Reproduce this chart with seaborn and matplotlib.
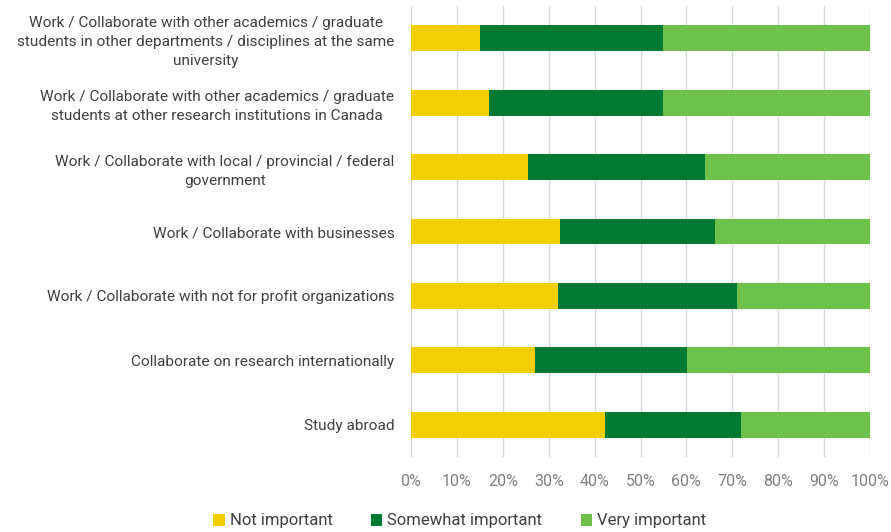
import matplotlib
matplotlib.use("Agg")
import matplotlib.pyplot as plt
from matplotlib.patches import Patch
from matplotlib.ticker import PercentFormatter
import seaborn as sns
import pandas as pd
import numpy as np

categories = [
    "Work / Collaborate with other academics / graduate\nstudents in other departments / disciplines at the same\nuniversity",
    "Work / Collaborate with other academics / graduate\nstudents at other research institutions in Canada",
    "Work / Collaborate with local / provincial / federal\ngovernment",
    "Work / Collaborate with businesses",
    "Work / Collaborate with not for profit organizations",
    "Collaborate on research internationally",
    "Study abroad",
]
not_important = [15.0, 17.0, 25.5, 32.4, 32.1, 27.1, 42.3]
somewhat_important = [40.0, 38.0, 38.5, 33.9, 38.9, 33.0, 29.7]
very_important = [45.0, 45.0, 36.0, 33.7, 29.0, 39.9, 28.0]

series_names = ["Not important", "Somewhat important", "Very important"]
colors = ["#F2CF00", "#007A33", "#6CC24A"]

sns.set_theme(style="white")
plt.rcParams["font.family"] = ["Roboto", "DejaVu Sans"]

df = pd.DataFrame({
    "category": categories,
    "not": not_important,
    "somewhat": somewhat_important,
    "very": very_important,
})
df["c1"] = df["not"]
df["c2"] = df["not"] + df["somewhat"]
df["c3"] = df["c2"] + df["very"]

fig = plt.figure(figsize=(8.91, 5.32), dpi=100)
ax = fig.add_axes([411 / 891, 1 - 457 / 532, (870 - 411) / 891, (457 - 6) / 532])

# stacked bars drawn as overlapping cumulative layers
for col, color in zip(["c3", "c2", "c1"], colors[::-1]):
    sns.barplot(data=df, x=col, y="category", orient="h", color=color,
                width=0.4, saturation=1, ax=ax, zorder=3, linewidth=0)

ax.set_xlim(0, 100)
ax.set_ylim(6.5, -0.5)
ax.set_xticks(np.arange(0, 101, 10))
ax.xaxis.set_major_formatter(PercentFormatter(decimals=0))
ax.grid(axis="x", color="#D9D9D9", linewidth=1.0, zorder=0)
ax.set_axisbelow(True)
for s in ax.spines.values():
    s.set_visible(False)
ax.set_xlabel("")
ax.set_ylabel("")
ax.tick_params(axis="x", colors="#808080", labelsize=11.5, length=0, pad=12)
ax.tick_params(axis="y", length=0, pad=12)
for lbl in ax.get_yticklabels():
    lbl.set_color("#404040")
    lbl.set_fontsize(11.1)
    lbl.set_multialignment("center")
    lbl.set_linespacing(1.45)

handles = [Patch(facecolor=c, edgecolor="none", label=n) for c, n in zip(colors, series_names)]
fig.legend(handles=handles, loc="center", bbox_to_anchor=(0.516, 1 - 521 / 532), ncol=3,
           frameon=False, fontsize=12, handlelength=0.7, handleheight=0.7,
           handletextpad=0.3, columnspacing=2.3, labelcolor="#404040")

fig.savefig("out.png", dpi=100)
